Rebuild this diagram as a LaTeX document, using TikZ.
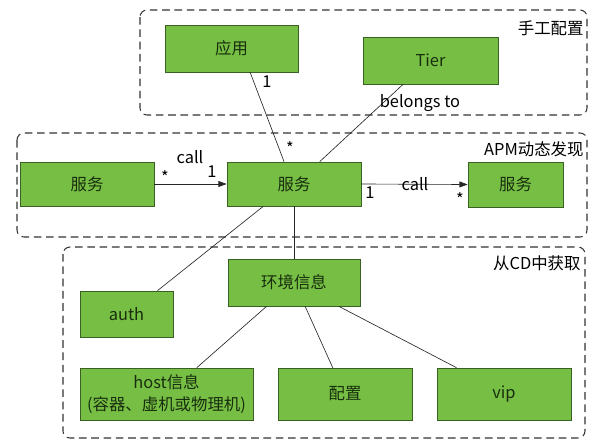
\documentclass[tikz,border=0pt]{standalone}
\usepackage{fontspec}
\setmainfont{Noto Sans CJK SC}
\usetikzlibrary{arrows.meta}
\definecolor{boxgreen}{RGB}{119,191,68}
\definecolor{boxedge}{RGB}{58,96,36}
\definecolor{boxtext}{RGB}{24,46,14}
\begin{document}
\begin{tikzpicture}[x=.03cm,y=-.03cm,line width=.55pt,
  every node/.style={font=\fontsize{14}{19}\selectfont,inner sep=1pt},
  box/.style={draw=boxedge,fill=boxgreen,text=boxtext,inner sep=0pt,line width=.6pt},
  area/.style={draw=black!80,line width=.9pt,dash pattern=on 6.5pt off 4pt,rounded corners=6pt},
  link/.style={draw=black!85},
  callto/.style={link,-{Triangle[length=7pt,width=5pt]}}]
  \path[use as bounding box] (0,0) rectangle (595,446);
  \draw[area] (140,10) rectangle (587,115);
  \draw[area] (17,133) rectangle (587,237);
  \draw[area] (63,247) rectangle (585,438);
  \node[left] at (585,28) {手工配置};
  \node[left] at (585,149) {APM动态发现};
  \node[left] at (582,263) {从CD中获取};
  \node[box,minimum width=3.99cm,minimum height=1.41cm] (app) at (231.5,48.5) {应用};
  \node[box,minimum width=4.05cm,minimum height=1.41cm] (tier) at (430.5,60.5) {Tier};
  \node[box,minimum width=4.02cm,minimum height=1.32cm] (svcL) at (87,184) {服务};
  \node[box,minimum width=4.02cm,minimum height=1.32cm] (svc) at (294,184) {服务};
  \node[box,minimum width=2.85cm,minimum height=1.35cm] (svcR) at (515.5,184.5) {服务};
  \node[box,minimum width=3.96cm,minimum height=1.41cm] (env) at (294,282.5) {环境信息};
  \node[box,minimum width=2.79cm,minimum height=1.38cm] (auth) at (126.5,314) {auth};
  \node[box,minimum width=5.19cm,minimum height=1.56cm,align=center] (host) at (166.5,394) {host信息\\(容器、虚机或物理机)};
  \node[box,minimum width=4.02cm,minimum height=1.56cm] (cfg) at (345,394) {配置};
  \node[box,minimum width=4.02cm,minimum height=1.56cm] (vip) at (504,394) {vip};
  \draw[link] (app.-52) -- (svc.114);
  \draw[link] (tier.-139.5) -- (svc.41);
  \draw[callto] (svcL.east) -- (svc.west);
  \draw[callto] (svc.east) -- (svcR.west);
  \draw[link] (svc.216) -- (auth.37);
  \draw[link] (svc.south) -- (env.north);
  \draw[link] (env.-139) -- (host.41);
  \draw[link] (env.-65) -- (cfg.115);
  \draw[link] (env.-28) -- (vip.151);
  \node at (267,82) {1};
  \node at (290,148) {*};
  \node at (420,103) {belongs to};
  \node at (190,157) {call};
  \node at (165,177) {*};
  \node at (212,172) {1};
  \node at (415,184) {call};
  \node at (370,193) {1};
  \node at (460,199) {*};
\end{tikzpicture}
\end{document}
